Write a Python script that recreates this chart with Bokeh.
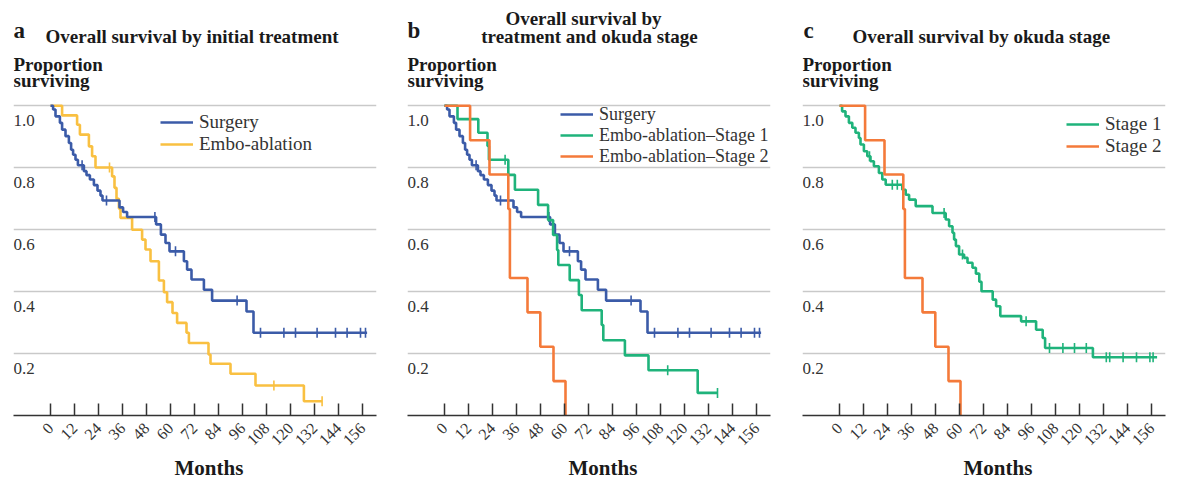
import math
import numpy as np
from bokeh.plotting import figure
from bokeh.models import Range1d, FixedTicker, Label, Legend, LegendItem, Title
from bokeh.layouts import row
from bokeh.embed import file_html
from bokeh.resources import INLINE
from bokeh.core.properties import value

# ---------------- data ----------------
month_ticks = [0, 12, 24, 36, 48, 60, 72, 84, 96, 108, 120, 132, 144, 156]
y_grid_vals = [0.2, 0.4, 0.6, 0.8, 1.0]
y_tick_labels = ["0.2", "0.4", "0.6", "0.8", "1.0"]

# Surgery
surg_t = [1.3, 2.5, 4.7, 5.8, 7.5, 9.2, 10.3, 11.3, 12.5, 13.7, 16.7, 18.0, 19.7, 21.7, 23.5, 25.0,
          26.0, 34.5, 36.3, 38.3, 52.8, 55.2, 57.5, 59.5, 66.7, 68.3, 70.5, 76.7, 80.8, 98.0, 101.5]
surg_s = [0.988, 0.966, 0.945, 0.923, 0.902, 0.880, 0.858, 0.842, 0.826, 0.808, 0.789, 0.776, 0.762,
          0.744, 0.726, 0.710, 0.694, 0.672, 0.657, 0.641, 0.617, 0.584, 0.557, 0.530, 0.498, 0.471,
          0.439, 0.406, 0.371, 0.336, 0.267]
surg_cens = [15.8, 28.0, 52.2, 62.5, 93.3, 105.0, 116.7, 122.5, 133.3, 142.5, 148.3, 155.0, 157.5]
surg_end = 158.3

# Embo-ablation (all)
embo_t = [5.8, 13.3, 14.7, 19.2, 20.8, 22.5, 30.8, 32.0, 33.0, 34.2, 35.0, 40.8, 45.8, 47.5, 50.0,
          54.2, 56.7, 58.3, 61.0, 63.3, 68.0, 69.2, 79.0, 80.0, 90.0, 102.5, 126.7]
embo_s = [0.969, 0.939, 0.907, 0.869, 0.837, 0.801, 0.772, 0.735, 0.700, 0.668, 0.638, 0.600, 0.568,
          0.536, 0.498, 0.436, 0.398, 0.366, 0.331, 0.299, 0.267, 0.234, 0.197, 0.167, 0.135, 0.097,
          0.046]
embo_cens = [29.5, 111.7, 135.8]
embo_end = 135.8

# Embo-ablation - Stage 1 (panel b)
s1b_t = [6.5, 16.9, 21.5, 22.2, 31.9, 35.2, 46.8, 51.8, 54.3, 56.3, 56.9, 62.6, 67.2, 68.6, 78.6,
         79.4, 90.2, 102.0, 126.6]
s1b_s = [0.957, 0.913, 0.870, 0.826, 0.777, 0.729, 0.680, 0.631, 0.583, 0.534, 0.486, 0.437, 0.389,
         0.340, 0.292, 0.243, 0.194, 0.146, 0.073]
s1b_cens = [30.3, 111.6, 136.5]
s1b_end = 136.5

# Stage 2 (panels b and c)
s2_t = [12.8, 22.5, 31.9, 32.7, 41.5, 47.9, 54.5, 60.5]
s2_s = [0.889, 0.778, 0.667, 0.444, 0.333, 0.222, 0.111, 0.0]
s2_cens = []
s2_end = 60.5

# Stage 1 (panel c)
s1c_t = [1.3, 3.0, 4.7, 6.4, 8.0, 9.7, 10.5, 12.2, 13.9, 15.5, 17.2, 19.7, 21.4, 23.1, 31.4, 33.1,
         34.8, 38.1, 46.5, 53.1, 54.8, 56.5, 57.3, 58.2, 59.8, 62.3, 64.0, 66.5, 68.2, 69.9, 71.0,
         76.6, 78.3, 80.4, 90.8, 98.3, 101.6, 102.8, 126.7]
s1c_s = [0.982, 0.966, 0.945, 0.929, 0.913, 0.896, 0.875, 0.853, 0.837, 0.821, 0.805, 0.783, 0.762,
         0.745, 0.729, 0.713, 0.697, 0.676, 0.654, 0.633, 0.611, 0.590, 0.568, 0.547, 0.520, 0.509,
         0.493, 0.477, 0.458, 0.432, 0.401, 0.374, 0.353, 0.321, 0.304, 0.277, 0.250, 0.218, 0.188]
s1c_cens = [15.0, 26.4, 28.9, 52.3, 61.5, 93.3, 105.0, 111.7, 117.5, 123.4, 133.4, 135.1, 141.8,
            148.5, 155.2, 156.8]
s1c_end = 158.8

BLUE = "#3b5ba8"
YELLOW = "#f9c041"
GREEN = "#1fb37b"
ORANGE = "#f47a3a"

SERIF = "Liberation Serif"
TXT = "#1a1a1a"


def surv_at(times, survs, t):
    idx = int(np.searchsorted(np.asarray(times), t, side="right")) - 1
    return 1.0 if idx < 0 else survs[idx]


def km(p, times, survs, cens, end, color):
    xs = [0.0] + list(times)
    ys = [1.0] + list(survs)
    if end > xs[-1]:
        xs.append(end)
        ys.append(ys[-1])
    r = p.step(xs, ys, mode="after", line_color=color, line_width=2.6)
    if cens:
        cy = [surv_at(times, survs, c) for c in cens]
        p.scatter(cens, cy, marker="dash", angle=math.pi / 2, size=10,
                  line_color=color, line_width=1.6)
    return r


def lab(p, x, y, text, size, bold=False, align="left"):
    p.add_layout(Label(x=x, y=y, x_units="screen", y_units="screen", text=text,
                       text_font=SERIF, text_font_size=size,
                       text_font_style="bold" if bold else "normal",
                       text_align=align, text_baseline="alphabetic", text_color=TXT))


def make_panel(bl, br):
    p = figure(frame_width=363, frame_height=415,
               x_range=Range1d(-18.5, 163), y_range=Range1d(0, 1.34),
               output_backend="svg", toolbar_location=None, y_axis_location=None,
               min_border_left=bl, min_border_right=br, min_border_top=0, min_border_bottom=62)
    p.outline_line_color = None
    p.background_fill_color = "white"
    p.xgrid.visible = False
    p.ygrid.ticker = FixedTicker(ticks=y_grid_vals)
    p.ygrid.grid_line_color = "#c9c9c9"
    p.ygrid.grid_line_width = 1.5
    ax = p.xaxis[0]
    ax.ticker = FixedTicker(ticks=month_ticks)
    ax.axis_line_color = "#333333"
    ax.axis_line_width = 1.5
    ax.major_tick_line_color = "#333333"
    ax.major_tick_line_width = 1.5
    ax.major_tick_in = 12
    ax.major_tick_out = 0
    ax.minor_tick_line_color = None
    ax.major_label_orientation = math.pi / 4
    ax.major_label_text_font = SERIF
    ax.major_label_text_font_size = "16px"
    ax.major_label_text_color = "#333333"
    ax.major_label_standoff = 10
    p.add_layout(Title(text="Months", align="left", offset=161, standoff=0,
                       text_font=SERIF, text_font_size="21px", text_font_style="bold",
                       text_color=TXT), "below")
    p.text(x=[-18.5] * len(y_grid_vals), y=y_grid_vals, text=y_tick_labels,
           text_font=value(SERIF), text_font_size="17px", text_color="#333333",
           text_baseline="alphabetic", text_align="left", x_offset=0, y_offset=15)
    lab(p, 0, 351, "Proportion", "19px", bold=True)
    lab(p, 0, 335, "surviving", "19px", bold=True)
    return p


def add_legend(p, items, loc, size="19px"):
    leg = Legend(items=[LegendItem(label=l, renderers=[r]) for l, r in items], location=loc,
                 label_text_font=SERIF, label_text_font_size=size, label_text_color="#333333",
                 glyph_width=33, glyph_height=20, label_height=20, label_standoff=6,
                 spacing=0, padding=0, margin=0, border_line_alpha=0, background_fill_alpha=0)
    p.add_layout(leg)


# ---------------- panel a ----------------
pa = make_panel(13, 24)
ra1 = km(pa, embo_t, embo_s, embo_cens, embo_end, YELLOW)
ra0 = km(pa, surg_t, surg_s, surg_cens, surg_end, BLUE)
add_legend(pa, [("Surgery", ra0), ("Embo-ablation", ra1)], (147, 260))
lab(pa, 0, 385, "a", "23px", bold=True)
lab(pa, 32, 379.5, "Overall survival by initial treatment", "19px", bold=True)

# ---------------- panel b ----------------
pb = make_panel(7, 24)
rb0 = km(pb, surg_t, surg_s, surg_cens, surg_end, BLUE)
rb1 = km(pb, s1b_t, s1b_s, s1b_cens, s1b_end, GREEN)
rb2 = km(pb, s2_t, s2_s, s2_cens, s2_end, ORANGE)
add_legend(pb, [("Surgery", rb0), ("Embo-ablation\u2013Stage 1", rb1),
                ("Embo-ablation\u2013Stage 2", rb2)], (153, 248.5), size="18px")
lab(pb, 0, 385, "b", "23px", bold=True)
lab(pb, 176, 397, "Overall survival by", "19px", bold=True, align="center")
lab(pb, 182, 379, "treatment and okuda stage", "19px", bold=True, align="center")

# ---------------- panel c ----------------
pc = make_panel(8, 10)
rc1 = km(pc, s1c_t, s1c_s, s1c_cens, s1c_end, GREEN)
rc2 = km(pc, s2_t, s2_s, s2_cens, s2_end, ORANGE)
add_legend(pc, [("Stage 1", rc1), ("Stage 2", rc2)], (264, 258))
lab(pc, 1, 385, "c", "23px", bold=True)
lab(pc, 50, 379.5, "Overall survival by okuda stage", "19px", bold=True)

layout = row(pa, pb, pc)
open("out.html", "w").write(file_html(layout, INLINE))
